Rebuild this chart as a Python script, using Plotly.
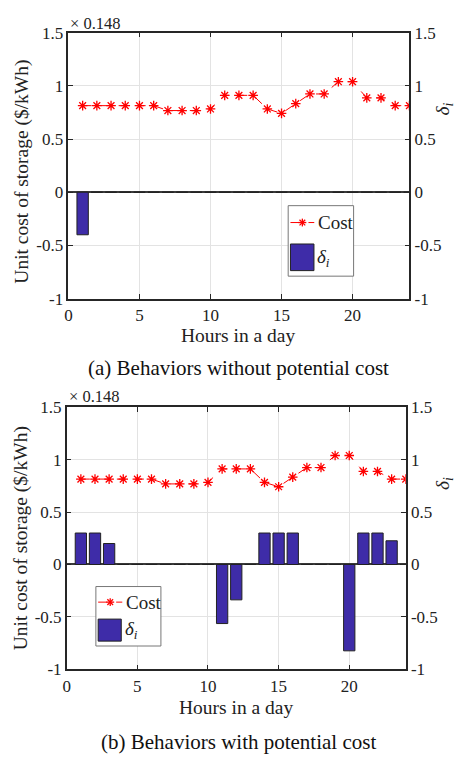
import plotly.graph_objects as go

hours = list(range(1, 25))
cost = [0.814, 0.814, 0.814, 0.814, 0.814, 0.814, 0.768, 0.768, 0.768, 0.783,
        0.911, 0.911, 0.911, 0.783, 0.741, 0.833, 0.924, 0.924, 1.039, 1.039,
        0.887, 0.887, 0.814, 0.814]
delta_a = [-0.4] + [0] * 23
delta_b = [0.3, 0.3, 0.2, 0, 0, 0, 0, 0, 0, 0, -0.563, -0.337, 0, 0.3, 0.3, 0.3,
           0, 0, 0, -0.823, 0.3, 0.3, 0.226, 0]
ytick_vals = [-1, -0.5, 0, 0.5, 1, 1.5]
ytick_text = ["-1", "-0.5", "0", "0.5", "1", "1.5"]
xtick_vals = [0, 5, 10, 15, 20]
captions = ["(a) Behaviors without potential cost", "(b) Behaviors with potential cost"]

W, H = 456, 762
FONT = "Liberation Serif"
BAR_COLOR = "rgb(62,44,168)"
AX = "#262626"

fig = go.Figure()

def px(x):
    return x / W

def py(y):
    return 1 - y / H

panels = [
    dict(delta=delta_a, xa="x", ya="y", ya2="y2", xdom=[65, 409], ydom=[24.3, 297],
         leg=dict(box=[286.7, 201.7, 352.7, 274], line=[289, 313, 219], txt1=[315, 219],
                  sq=[289, 241, 312.7, 268.3], txt2=[314, 255]),
         xlab=335, cap=368, mult=15, ylab=167, dlab=103),
    dict(delta=delta_b, xa="x2", ya="y3", ya2="y4", xdom=[63.3, 405.3], ydom=[408.3, 677.3],
         leg=dict(box=[92.7, 592.3, 158.3, 653.3], line=[95, 119.3, 608.3], txt1=[121, 608.3],
                  sq=[95, 625.7, 118.3, 648.3], txt2=[120, 637]),
         xlab=716, cap=752, mult=397, ylab=543, dlab=487),
]

shapes = []
annotations = []
tickfont = dict(family=FONT, size=17, color="#222")

for i, p in enumerate(panels):
    fig.add_trace(go.Bar(x=hours, y=p["delta"], width=0.8, xaxis=p["xa"], yaxis=p["ya2"],
                         marker=dict(color=BAR_COLOR, line=dict(color="#222", width=1)),
                         showlegend=False))
    fig.add_trace(go.Scatter(x=hours, y=cost, mode="lines+markers", xaxis=p["xa"], yaxis=p["ya"],
                             line=dict(color="red", width=1, dash="dash"),
                             marker=dict(symbol="asterisk-open", size=8,
                                         line=dict(color="red", width=1.3)),
                             showlegend=False))
    xd = [px(p["xdom"][0]), px(p["xdom"][1])]
    yd = [py(p["ydom"][1]), py(p["ydom"][0])]
    xkey = "xaxis" if p["xa"] == "x" else "xaxis" + p["xa"][1:]
    ykey = "yaxis" if p["ya"] == "y" else "yaxis" + p["ya"][1:]
    y2key = "yaxis" + p["ya2"][1:]
    fig.layout[xkey] = dict(domain=xd, anchor=p["ya"], range=[0, 24], tickvals=xtick_vals,
                            showgrid=True, gridcolor="#e3e3e3", gridwidth=1,
                            showline=True, linecolor=AX, linewidth=1.5, mirror="ticks",
                            ticks="inside", ticklen=5, tickcolor=AX, zeroline=False,
                            tickfont=tickfont)
    fig.layout[ykey] = dict(domain=yd, anchor=p["xa"], range=[-1, 1.5], tickvals=ytick_vals,
                            ticktext=ytick_text, showgrid=True, gridcolor="#e3e3e3",
                            showline=True, linecolor=AX, linewidth=1.5, ticks="inside",
                            ticklen=5, tickcolor=AX, zeroline=True, zerolinecolor="#3a3a3a",
                            zerolinewidth=1.5, tickfont=tickfont)
    fig.layout[y2key] = dict(domain=yd, anchor=p["xa"], overlaying=p["ya"], side="right",
                             range=[-1, 1.5], tickvals=ytick_vals, ticktext=ytick_text,
                             showgrid=False, zeroline=False, showline=True, linecolor=AX,
                             linewidth=1.5, ticks="inside", ticklen=5, tickcolor=AX,
                             tickfont=tickfont)
    L = p["leg"]
    shapes.append(dict(type="rect", xref="paper", yref="paper",
                       x0=px(L["box"][0]), x1=px(L["box"][2]),
                       y0=py(L["box"][3]), y1=py(L["box"][1]),
                       line=dict(color="#777", width=1), fillcolor="white", layer="above"))
    shapes.append(dict(type="line", xref="paper", yref="paper",
                       x0=px(L["line"][0]), x1=px(L["line"][1]),
                       y0=py(L["line"][2]), y1=py(L["line"][2]),
                       line=dict(color="red", width=1, dash="dash"), layer="above"))
    # asterisk legend sample drawn from short strokes
    cxm = (L["line"][0] + L["line"][1]) / 2
    cym = L["line"][2]
    r = 4
    for dx, dy in [(r, 0), (0, r), (r * 0.72, r * 0.72), (r * 0.72, -r * 0.72)]:
        shapes.append(dict(type="line", xref="paper", yref="paper",
                           x0=px(cxm - dx), x1=px(cxm + dx), y0=py(cym - dy), y1=py(cym + dy),
                           line=dict(color="red", width=1.3), layer="above"))
    shapes.append(dict(type="rect", xref="paper", yref="paper",
                       x0=px(L["sq"][0]), x1=px(L["sq"][2]),
                       y0=py(L["sq"][3]), y1=py(L["sq"][1]),
                       line=dict(color="#222", width=1), fillcolor=BAR_COLOR, layer="above"))
    annotations.append(dict(text="Cost", x=px(L["txt1"][0]), y=py(L["txt1"][1]), xref="paper",
                            yref="paper", xanchor="left", yanchor="middle", showarrow=False,
                            font=dict(family=FONT, size=19, color="#222")))
    annotations.append(dict(text="<i>δ</i><sub><i>i</i></sub>", x=px(L["txt2"][0]),
                            y=py(L["txt2"][1]), xref="paper", yref="paper", xanchor="left",
                            yanchor="middle", showarrow=False,
                            font=dict(family=FONT, size=19, color="#222")))
    cx = (p["xdom"][0] + p["xdom"][1]) / 2
    annotations.append(dict(text="Hours in a day", x=px(cx), y=py(p["xlab"]), xref="paper",
                            yref="paper", xanchor="center", yanchor="middle", showarrow=False,
                            font=dict(family=FONT, size=19.5, color="#222")))
    annotations.append(dict(text=captions[i], x=px(236.5), y=py(p["cap"]), xref="paper",
                            yref="paper", xanchor="center", yanchor="middle", showarrow=False,
                            font=dict(family=FONT, size=21, color="#111")))
    annotations.append(dict(text="× 0.148", x=px(p["xdom"][0]), y=py(p["mult"]), xref="paper",
                            yref="paper", xanchor="left", yanchor="middle", showarrow=False,
                            font=dict(family=FONT, size=16.5, color="#222")))
    annotations.append(dict(text="Unit cost of storage ($/kWh)", x=px(18), y=py(p["ylab"]),
                            xref="paper", yref="paper", xanchor="center", yanchor="middle",
                            textangle=-90, showarrow=False,
                            font=dict(family=FONT, size=19.5, color="#222")))
    annotations.append(dict(text="<i>δ</i><sub><i>i</i></sub>", x=px(444), y=py(p["dlab"]),
                            xref="paper", yref="paper", xanchor="center", yanchor="middle",
                            textangle=-90, showarrow=False,
                            font=dict(family=FONT, size=19.5, color="#222")))

fig.update_layout(width=W, height=H, margin=dict(l=0, r=0, t=0, b=0),
                  font=dict(family=FONT, color="#222"),
                  paper_bgcolor="white", plot_bgcolor="white", showlegend=False,
                  shapes=shapes, annotations=annotations, bargap=0.2)
fig.write_html("out.html")
